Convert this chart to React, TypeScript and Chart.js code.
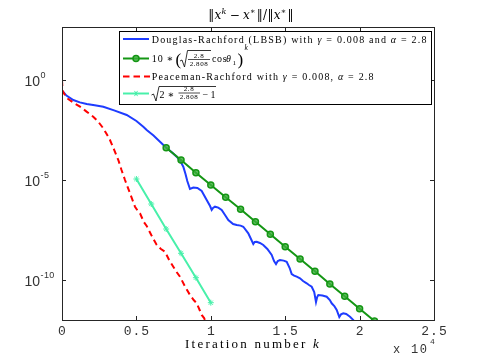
import React, { useEffect, useRef } from "react";
import { Chart, registerables } from "chart.js";
Chart.register(...registerables);

// ---------------- data (log10 exponents) ----------------
const drK = [0, 87, 300, 760, 1200, 1660, 2200, 2776, 3500, 4348, 5000, 5464, 5692, 6150, 6586, 6990, 7400, 7708, 7950, 8152, 8300, 8420, 8600, 8824, 9100, 9388, 9724, 9950, 10060, 10150, 10282, 10500, 10732, 11000, 11176, 11500, 11741, 12000, 12184, 12520, 12700, 12856, 12950, 13085, 13300, 13528, 13800, 14093, 14250, 14382, 14500, 14651, 14900, 15101, 15300, 15437, 15600, 15773, 15995, 16200, 16445, 16600, 16781, 16950, 17070, 17150, 17225, 17500, 17789, 18000, 18125, 18300, 18461, 18636, 18750, 18905, 19100, 19355, 19577, 19758];
const drExp = [-0.55, -0.6, -0.78, -1.0, -1.12, -1.2, -1.26, -1.335, -1.52, -1.75, -2.05, -2.335, -2.5, -2.78, -3.085, -3.375, -3.62, -3.835, -4.05, -4.335, -4.7, -5.05, -5.45, -5.38, -5.4, -5.55, -6.0, -6.3, -6.5, -6.4, -6.335, -6.38, -6.5, -6.8, -7.0, -7.2, -7.25, -7.28, -7.335, -7.665, -7.95, -8.2, -8.1, -8.085, -8.15, -8.25, -8.45, -8.75, -9.05, -9.2, -9.05, -9.0, -9.03, -9.085, -9.4, -9.7, -9.78, -9.835, -9.915, -10.05, -10.165, -10.25, -10.335, -10.6, -11.1, -10.85, -10.75, -10.78, -10.835, -11.0, -11.165, -11.3, -11.5, -11.85, -11.72, -11.665, -11.7, -11.835, -12.0, -12.25];

const rateK = [7000, 8000, 9000, 10000, 11000, 12000, 13000, 14000, 15000, 16000, 17000, 18000, 19000, 20000, 21000];
const rateExp = [-3.385, -4.0, -4.635, -5.25, -5.865, -6.465, -7.085, -7.715, -8.335, -8.95, -9.565, -10.2, -10.815, -11.435, -12.05];

const prK = [0, 40, 316, 800, 1210, 1650, 2100, 2450, 2775, 3000, 3225, 3500, 3785, 4000, 4234, 4570, 4906, 5100, 5242, 5500, 5692, 6000, 6364, 6650, 6922, 7200, 7480, 7700, 7930, 8250, 8602, 8850, 9052, 9250, 9388, 9550, 9650];
const prExp = [0.0, -0.55, -0.9, -1.15, -1.335, -1.58, -1.835, -2.1, -2.415, -2.7, -3.0, -3.48, -4.0, -4.5, -5.0, -5.665, -6.335, -6.55, -6.665, -7.1, -7.3, -7.75, -8.25, -8.45, -8.585, -9.0, -9.335, -9.6, -9.835, -10.3, -10.75, -11.0, -11.165, -11.5, -11.75, -11.9, -12.1];

const sqK = [5000, 6000, 7000, 8000, 9000, 10000];
const sqExp = [-4.95, -6.2, -7.45, -8.665, -9.885, -11.135];

const xTicks = [0, 5000, 10000, 15000, 20000, 25000];
const xTickLabels = ["0", "0.5", "1", "1.5", "2", "2.5"];
const yTicks = [1, 1e-5, 1e-10];
const yTickExps = ["0", "-5", "-10"];

// ---------------- styling ----------------
const SERIF = '"Liberation Serif", "DejaVu Serif", serif';
const DSERIF = '"DejaVu Serif", "Liberation Serif", serif';
const MONO = '"Liberation Mono", "DejaVu Sans Mono", monospace';
const SANS = '"Liberation Sans", Arial, sans-serif';
const BLUE = "rgb(30,60,255)";
const GREEN = "rgb(20,150,20)";
const RED = "rgb(255,0,0)";
const MINT = "rgb(72,240,170)";
const AX = "#262626";

type Run = { t: string; font: string; dy?: number; gap?: number };

function runsWidth(ctx: CanvasRenderingContext2D, runs: Run[], ls: number) {
  let w = 0;
  for (const r of runs) {
    ctx.font = r.font;
    w += ctx.measureText(r.t).width + ls * r.t.length + (r.gap || 0);
  }
  return w;
}

function drawRuns(ctx: CanvasRenderingContext2D, x: number, y: number, runs: Run[], ls: number) {
  for (const r of runs) {
    ctx.font = r.font;
    (ctx as any).letterSpacing = "0px";
    const w0 = ctx.measureText(r.t).width;
    (ctx as any).letterSpacing = ls + "px";
    ctx.fillText(r.t, x, y + (r.dy || 0));
    x += w0 + ls * r.t.length + (r.gap || 0);
  }
  (ctx as any).letterSpacing = "0px";
  return x;
}

function drawFit(ctx: CanvasRenderingContext2D, x: number, y: number, runs: Run[], target: number) {
  let n = 0;
  for (const r of runs) n += r.t.length;
  const w = runsWidth(ctx, runs, 0);
  const ls = n > 0 ? (target - w) / n : 0;
  return drawRuns(ctx, x, y, runs, ls);
}

function radical(ctx: CanvasRenderingContext2D, x0: number, yMid: number, yBot: number, yTop: number, xEnd: number) {
  ctx.beginPath();
  ctx.moveTo(x0, yMid + 1);
  ctx.lineTo(x0 + 2, yMid);
  ctx.lineTo(x0 + 4.5, yBot);
  ctx.lineTo(x0 + 7.5, yTop);
  ctx.lineTo(xEnd, yTop);
  ctx.lineWidth = 0.8;
  ctx.strokeStyle = "#000";
  ctx.stroke();
}

function fraction(ctx: CanvasRenderingContext2D, cx: number, yBar: number, x0: number, x1: number, num: string, den: string) {
  ctx.font = `7px ${SERIF}`;
  ctx.textAlign = "center";
  (ctx as any).letterSpacing = "0.6px";
  ctx.fillText(num, cx, yBar - 1.5);
  ctx.fillText(den, cx, yBar + 6.5);
  (ctx as any).letterSpacing = "0px";
  ctx.textAlign = "left";
  ctx.beginPath();
  ctx.moveTo(x0, yBar + 0.5);
  ctx.lineTo(x1, yBar + 0.5);
  ctx.lineWidth = 0.7;
  ctx.stroke();
}

const decorPlugin = {
  id: "decor",
  afterDraw(chart: any) {
    const ctx: CanvasRenderingContext2D = chart.ctx;
    const xs = chart.scales.x;
    const ys = chart.scales.y;
    const { left, right, top, bottom } = chart.chartArea;
    ctx.save();

    // frame
    ctx.strokeStyle = AX;
    ctx.lineWidth = 1;
    ctx.strokeRect(Math.round(left) + 0.5, Math.round(top) + 0.5, Math.round(right - left), Math.round(bottom - top));

    // inward ticks
    ctx.beginPath();
    xTicks.forEach((v) => {
      const px = Math.round(xs.getPixelForValue(v)) + 0.5;
      ctx.moveTo(px, bottom);
      ctx.lineTo(px, bottom - 4);
      ctx.moveTo(px, top);
      ctx.lineTo(px, top + 4);
    });
    yTicks.forEach((v) => {
      const py = Math.round(ys.getPixelForValue(v)) + 0.5;
      ctx.moveTo(left, py);
      ctx.lineTo(left + 4, py);
      ctx.moveTo(right, py);
      ctx.lineTo(right - 4, py);
    });
    ctx.stroke();

    // x tick labels
    ctx.fillStyle = "#333";
    ctx.textBaseline = "alphabetic";
    xTicks.forEach((v, i) => {
      const px = xs.getPixelForValue(v);
      const runs = [{ t: xTickLabels[i], font: `13px ${MONO}` }];
      const w = runsWidth(ctx, runs, 1) - 1;
      drawRuns(ctx, px - w / 2, 335, runs, 1);
    });

    // y tick labels 10^e
    yTicks.forEach((v, i) => {
      const py = ys.getPixelForValue(v);
      ctx.font = `14px ${SANS}`;
      ctx.textAlign = "right";
      ctx.fillText("10", 40, py + 6);
      ctx.textAlign = "left";
      drawRuns(ctx, 40.5, py - 2, [{ t: yTickExps[i], font: `9px ${SANS}` }], 0.4);
    });

    // x 10^4
    drawRuns(ctx, 393, 353, [{ t: "x", font: `12px ${MONO}` }], 0);
    drawRuns(ctx, 411, 353, [{ t: "10", font: `12px ${MONO}` }], 1.5);
    drawRuns(ctx, 430, 344, [{ t: "4", font: `8px ${MONO}` }], 0);

    // x axis label
    ctx.fillStyle = "#000";
    drawFit(ctx, 185, 348, [
      { t: "Iteration number ", font: `13px ${SERIF}` },
      { t: "k", font: `italic 13px ${SERIF}` },
    ], 136);

    // title  ||x^k - x*|| / ||x*||
    const tf = `12px ${DSERIF}`;
    const tfi = `italic 12px ${DSERIF}`;
    const tfs = `italic 8px ${DSERIF}`;
    const tfs2 = `8px ${DSERIF}`;
    const titleRuns: Run[] = [
      { t: "‖", font: tf },
      { t: "x", font: tfi },
      { t: "k", font: tfs, dy: -5, gap: 3 },
      { t: "−", font: tf, gap: 3 },
      { t: "x", font: tfi },
      { t: "∗", font: tfs2, dy: -5, gap: 1 },
      { t: "‖/‖", font: tf },
      { t: "x", font: tfi },
      { t: "∗", font: tfs2, dy: -5, gap: 1 },
      { t: "‖", font: tf },
    ];
    const tw = runsWidth(ctx, titleRuns, 0.3);
    drawRuns(ctx, 251 - tw / 2, 18.5, titleRuns, 0.3);

    // ---------- legend ----------
    const bx = 119.5, by = 31.5, bw = 312, bh = 73;
    ctx.fillStyle = "#fff";
    ctx.fillRect(bx, by, bw, bh);
    ctx.strokeStyle = "#000";
    ctx.lineWidth = 1;
    ctx.strokeRect(bx, by, bw, bh);

    const rows = [39, 58.5, 76.5, 93.5];
    const sx0 = 123, sx1 = 149, sm = 136;
    ctx.lineWidth = 2;
    ctx.strokeStyle = BLUE;
    ctx.beginPath(); ctx.moveTo(sx0, rows[0]); ctx.lineTo(sx1, rows[0]); ctx.stroke();
    ctx.strokeStyle = GREEN;
    ctx.beginPath(); ctx.moveTo(sx0, rows[1]); ctx.lineTo(sx1, rows[1]); ctx.stroke();
    ctx.beginPath(); ctx.arc(sm, rows[1], 3, 0, Math.PI * 2);
    ctx.fillStyle = "rgba(60,175,60,0.8)"; ctx.fill();
    ctx.lineWidth = 1.5; ctx.stroke();
    ctx.strokeStyle = RED; ctx.lineWidth = 2;
    ctx.setLineDash([6.5, 4]);
    ctx.beginPath(); ctx.moveTo(sx0, rows[2]); ctx.lineTo(sx1 + 1, rows[2]); ctx.stroke();
    ctx.setLineDash([]);
    ctx.strokeStyle = MINT;
    ctx.beginPath(); ctx.moveTo(sx0, rows[3]); ctx.lineTo(sx1, rows[3]); ctx.stroke();
    ctx.lineWidth = 1;
    ctx.beginPath();
    for (let a = 0; a < 3; a++) {
      const ang = (a * Math.PI) / 3;
      ctx.moveTo(sm - 3 * Math.cos(ang), rows[3] - 3 * Math.sin(ang));
      ctx.lineTo(sm + 3 * Math.cos(ang), rows[3] + 3 * Math.sin(ang));
    }
    ctx.stroke();

    ctx.fillStyle = "#000";
    const f10 = `10px ${SERIF}`;
    const f10i = `italic 10px ${SERIF}`;
    drawFit(ctx, 151.7, 42.5, [
      { t: "Douglas-Rachford (LBSB) with ", font: f10 },
      { t: "γ", font: f10i },
      { t: " = 0.008 and ", font: f10 },
      { t: "α", font: f10i },
      { t: " = 2.8", font: f10 },
    ], 276);
    drawFit(ctx, 151.7, 80, [
      { t: "Peaceman-Rachford with ", font: f10 },
      { t: "γ", font: f10i },
      { t: " = 0.008, ", font: f10 },
      { t: "α", font: f10i },
      { t: " = 2.8", font: f10 },
    ], 223);

    // row 2 math
    drawRuns(ctx, 151.7, 62, [{ t: "10", font: f10 }], 1);
    drawRuns(ctx, 166.5, 62, [{ t: "∗", font: f10 }], 0);
    drawRuns(ctx, 175.5, 64.5, [{ t: "(", font: `17px ${SERIF}` }], 0);
    radical(ctx, 180, 60, 67, 50.5, 211);
    fraction(ctx, 199, 59, 188, 210, "2.8", "2.808");
    drawRuns(ctx, 212, 62, [{ t: "cos", font: f10 }], 0.6);
    drawRuns(ctx, 226, 62, [{ t: "θ", font: f10i }], 0);
    drawRuns(ctx, 232.5, 64.5, [{ t: "1", font: `7px ${SERIF}` }], 0);
    drawRuns(ctx, 237.5, 64.5, [{ t: ")", font: `17px ${SERIF}` }], 0);
    drawRuns(ctx, 244.5, 50, [{ t: "k", font: `italic 7.5px ${SERIF}` }], 0);

    // row 4 math
    radical(ctx, 151.5, 94, 101, 86.5, 216);
    drawRuns(ctx, 159.5, 97.5, [{ t: "2", font: f10 }], 0);
    drawRuns(ctx, 167.5, 97.5, [{ t: "∗", font: f10 }], 0);
    fraction(ctx, 189, 92.5, 178.5, 200, "2.8", "2.808");
    drawRuns(ctx, 202.5, 97.5, [{ t: "−", font: f10 }], 0);
    drawRuns(ctx, 210.5, 97.5, [{ t: "1", font: f10 }], 0);

    ctx.restore();
  },
};

export default function App() {
  const ref = useRef<HTMLCanvasElement | null>(null);
  useEffect(() => {
    document.body.style.margin = "0";
    const canvas = ref.current;
    if (!canvas) return;
    const pts = (ks: number[], es: number[]) => ks.map((k, i) => ({ x: k, y: Math.pow(10, es[i]) }));
    const chart = new Chart(canvas, {
      type: "line",
      data: {
        datasets: [
          {
            label: "Douglas-Rachford (LBSB)",
            data: pts(drK, drExp),
            borderColor: BLUE,
            borderWidth: 2,
            pointRadius: 0,
            tension: 0,
            clip: 0,
            order: 3,
          } as any,
          {
            label: "rate",
            data: pts(rateK, rateExp),
            borderColor: GREEN,
            borderWidth: 2,
            pointRadius: 3,
            pointBorderWidth: 1.5,
            pointBorderColor: GREEN,
            pointBackgroundColor: "rgba(60,175,60,0.8)",
            clip: 0,
            order: 2,
          },
          {
            label: "Peaceman-Rachford",
            data: pts(prK, prExp),
            borderColor: RED,
            borderWidth: 2,
            borderDash: [6, 4],
            pointRadius: 0,
            clip: 0,
            order: 1,
          },
          {
            label: "sqrt",
            data: pts(sqK, sqExp),
            borderColor: MINT,
            borderWidth: 2,
            pointRadius: 3,
            pointStyle: "star",
            pointBorderColor: MINT,
            pointBorderWidth: 1,
            clip: 0,
            order: 0,
          },
        ],
      },
      options: {
        animation: false,
        responsive: false,
        devicePixelRatio: 1,
        layout: { padding: { left: 0, top: 27, right: 46, bottom: 0 } },
        plugins: { legend: { display: false }, title: { display: false }, tooltip: { enabled: false } },
        scales: {
          x: {
            type: "linear",
            min: 0,
            max: 25000,
            grid: { display: false },
            border: { display: false },
            ticks: { display: false },
            afterFit: (s: any) => { s.height = 41; },
          },
          y: {
            type: "logarithmic",
            min: 1e-12,
            max: Math.pow(10, 2.65),
            grid: { display: false },
            border: { display: false },
            ticks: { display: false },
            afterFit: (s: any) => { s.width = 62; },
          },
        },
      } as any,
      plugins: [decorPlugin],
    });
    return () => chart.destroy();
  }, []);
  return (
    <div style={{ width: 480, height: 361, background: "#fff" }}>
      <canvas ref={ref} width={480} height={361} style={{ display: "block" }} />
    </div>
  );
}
